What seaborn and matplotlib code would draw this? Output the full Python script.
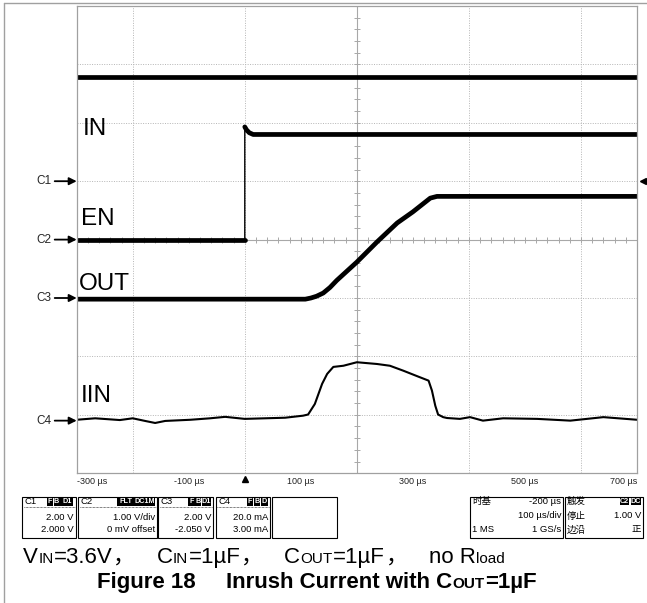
import numpy as np
import matplotlib
matplotlib.use("Agg")
import matplotlib.pyplot as plt
import seaborn as sns
from matplotlib.patches import Rectangle
from matplotlib.lines import Line2D

W, H = 647, 603

# =====================================================
# DATA
# =====================================================
# time axis, µs
x_ticks = [-300, -100, 100, 300, 500, 700]
x_tick_labels = ["-300 µs", "-100 µs", "100 µs", "300 µs", "500 µs", "700 µs"]

# C1 = IN (V), 2 V/div, marker at +1 div
in_t = [-300, 700]
in_v = [3.56, 3.56]

# C2 = EN (V), 1 V/div, marker at 0 div
en_t = [-300, 0, 0, 3, 8, 15, 700]
en_v = [0.0, 0.0, 1.93, 1.88, 1.83, 1.80, 1.80]

# C3 = OUT (V), 2 V/div, marker at -1 div
out_t = [-300, 108, 118, 128, 140, 152, 164, 200, 236, 272, 300, 331, 343, 700]
out_v = [-0.04, -0.04, 0.0, 0.06, 0.17, 0.36, 0.60, 1.23, 1.92, 2.57, 2.95, 3.42, 3.48, 3.48]

# C4 = IIN (mA), 20 mA/div, marker at -3.1 div
iin_t = [-300, -267, -223, -200, -178, -160, -142, -97, -62, -35, 0, 36, 72, 104,
         113, 125, 138, 147, 158, 176, 200, 236, 259, 283, 308, 328, 334, 340, 345,
         354, 361, 384, 402, 425, 461, 522, 581, 640, 700]
iin_ma = [0.3, 0.8, 0.2, 0.8, -0.1, -0.8, -0.1, 0.3, 0.8, 1.3, 0.6, 0.8, 1.0, 1.7,
          2.1, 5.7, 12.6, 16.0, 18.4, 18.8, 20.0, 19.4, 18.8, 17.1, 15.2, 13.7, 10.3, 5.1, 2.1,
          1.2, 0.9, 0.6, 1.2, 0.0, 0.8, 0.6, 0.0, 1.2, 0.3]

channels = ["C1", "C2", "C3", "C4"]
channel_pos = [1.0, 0.0, -1.0, -3.1]
channel_scale = [2.0, 1.0, 2.0, 20.0]


def to_div(vals, ch):
    return [channel_pos[ch] + v / channel_scale[ch] for v in vals]


# =====================================================
# STYLE
# =====================================================
sns.set_theme(style="white")
plt.rcParams["font.family"] = ["Liberation Sans", "Noto Sans CJK SC"]

fig = plt.figure(figsize=(W / 100, H / 100), dpi=100)
ax = fig.add_axes([76.7 / W, 1 - 473.2 / H, 560.3 / W, 467.2 / H])

# grid
ax.set_xticks(np.arange(-300, 701, 100), minor=True)
ax.set_yticks(np.arange(-4, 5, 1), minor=True)
ax.grid(True, which="minor", color="#b5b5b5", ls=(0, (1, 1.5)), lw=0.7)
ax.grid(False, which="major")
ax.set_axisbelow(True)

# centre cross with small ticks
gray = "#a8a8a8"
ax.axhline(0, color=gray, lw=0.8, zorder=1)
ax.axvline(200, color=gray, lw=0.8, zorder=1)
ax.vlines(np.arange(-300, 701, 20), -0.05, 0.05, color=gray, lw=0.7, zorder=1)
ax.hlines(np.arange(-4, 4.01, 0.2), 195, 205, color=gray, lw=0.7, zorder=1)

# =====================================================
# TRACES
# =====================================================
kw = dict(ax=ax, color="black", estimator=None, sort=False, legend=False)
TH = 3.4
sns.lineplot(x=in_t, y=to_div(in_v, 0), lw=TH, **kw)

en_y = to_div(en_v, 1)
sns.lineplot(x=en_t, y=en_y, lw=1.0, **kw)
sns.lineplot(x=en_t[:2], y=en_y[:2], lw=TH, **kw)
sns.lineplot(x=en_t[2:], y=en_y[2:], lw=TH, **kw)

sns.lineplot(x=out_t, y=to_div(out_v, 2), lw=TH, **kw)
sns.lineplot(x=iin_t, y=to_div(iin_ma, 3), lw=1.5, **kw)

ax.set_xlim(-300, 700)
ax.set_ylim(-4, 4)
ax.set_xlabel("")
ax.set_ylabel("")
ax.set_yticks([])
ax.set_xticks(x_ticks)
ax.set_xticklabels(x_tick_labels)
ax.tick_params(axis="x", which="both", length=0, pad=2.4, labelsize=6.5, colors="#222222")
tl = ax.get_xticklabels()
tl[0].set_ha("left")
tl[-1].set_ha("right")
for s in ax.spines.values():
    s.set_color("#a0a0a0")
    s.set_linewidth(0.9)

# trace names
ax.text(-290, 1.79, "IN", fontsize=17.5, va="baseline", color="black")
ax.text(-292, 0.25, "EN", fontsize=17.5, va="baseline", color="black")
ax.text(-296, -0.86, "OUT", fontsize=17.5, va="baseline", color="black")
ax.text(-292, -2.78, "IIN", fontsize=17.5, va="baseline", color="black")

# channel ground markers
for name, pos in zip(channels, channel_pos):
    ax.annotate(name, xy=(0, pos), xycoords=ax.get_yaxis_transform(),
                xytext=(-18.5, 0), textcoords="offset points", ha="right", va="center",
                fontsize=8.5, annotation_clip=False,
                arrowprops=dict(arrowstyle="-|>", color="black", lw=1.3,
                                shrinkA=0.3, shrinkB=0, mutation_scale=11))

# trigger level (right) and trigger time (bottom)
ax.plot([1.011], [1.0], marker="<", color="black", ms=4, clip_on=False,
        transform=ax.get_yaxis_transform())
ax.plot([0], [-4.1], marker="^", color="black", ms=4.5, clip_on=False)

# =====================================================
# SCOPE INFO BOXES
# =====================================================
def fx(x):
    return x / W


def fy(y):
    return 1 - y / H


BY0, BY1 = 497, 538


def box(x0, x1):
    fig.add_artist(Rectangle((fx(x0), fy(BY1)), (x1 - x0) / W, (BY1 - BY0) / H,
                             transform=fig.transFigure, fill=False, ec="black", lw=0.8))


def dashed(x0, x1, y=507):
    fig.add_artist(Line2D([fx(x0 + 1.5), fx(x1 - 1.5)], [fy(y), fy(y)],
                          transform=fig.transFigure, color="black", lw=0.5, ls=(0, (1, 1))))


def ftxt(x, y, s, ha="left", size=6.8, **k):
    fig.text(fx(x), fy(y), s, ha=ha, va="center", fontsize=size, color="black", **k)


def badge(x0, x1, s, y0=497.5, y1=506):
    fig.add_artist(Rectangle((fx(x0), fy(y1)), (x1 - x0) / W, (y1 - y0) / H,
                             transform=fig.transFigure, color="black", lw=0))
    fig.text(fx((x0 + x1) / 2), fy((y0 + y1) / 2), s, ha="center", va="center",
             fontsize=5.2, color="white", fontweight="bold")


# C1
box(22, 76)
dashed(22, 76)
ftxt(24.5, 501.5, "C1")
for s, a, b in [("F", 47.3, 52.8), ("B", 53.5, 59.5), ("D1", 60.2, 73.3)]:
    badge(a, b, s)
ftxt(73.5, 518, "2.00 V", ha="right")
ftxt(73.5, 529, "2.000 V", ha="right")

# C2
box(78, 157)
dashed(78, 157)
ftxt(80.5, 501.5, "C2")
for s, a, b in [("FLT", 116.7, 134.5), ("DC1M", 135.2, 155)]:
    badge(a, b, s)
ftxt(155, 518, "1.00 V/div", ha="right")
ftxt(155, 529, "0 mV offset", ha="right")

# C3
box(158, 213)
dashed(158, 213)
ftxt(160.5, 501.5, "C3")
for s, a, b in [("F", 188.3, 194.5), ("B", 195.2, 201), ("D1", 201.7, 211.2)]:
    badge(a, b, s)
ftxt(211, 518, "2.00 V", ha="right")
ftxt(211, 529, "-2.050 V", ha="right")

# C4
box(216, 270)
dashed(216, 270)
ftxt(218.5, 501.5, "C4")
for s, a, b in [("F", 246.7, 252.8), ("B", 253.5, 260), ("D", 260.7, 268)]:
    badge(a, b, s)
ftxt(268, 518, "20.0 mA", ha="right")
ftxt(268, 529, "3.00 mA", ha="right")

# empty
box(272, 337)

# timebase
box(470, 563)
ftxt(472, 501.5, "时基")
ftxt(561, 501.5, "-200 µs", ha="right")
ftxt(561, 516, "100 µs/div", ha="right")
ftxt(472, 530, "1 MS")
ftxt(561, 530, "1 GS/s", ha="right")

# trigger
box(565, 643)
ftxt(567, 501.5, "触发")
for s, a, b in [("C2", 620, 629), ("DC", 630.5, 641)]:
    badge(a, b, s, y0=497.5, y1=505)
ftxt(567, 516, "停止")
ftxt(641, 516, "1.00 V", ha="right")
ftxt(567, 530, "边沿")
ftxt(641, 530, "正", ha="right")

# outer frame of the screenshot
fig.add_artist(Line2D([fx(4), fx(4)], [fy(3), 0], transform=fig.transFigure, color="#a0a0a0", lw=1))
fig.add_artist(Line2D([fx(4), 1], [fy(3), fy(3)], transform=fig.transFigure, color="#a0a0a0", lw=1))

# =====================================================
# CAPTION (baseline-aligned smaller subscripts)
# =====================================================
renderer = fig.canvas.get_renderer()


def runs(x, y, parts, weight="normal"):
    for s, size, gap in parts:
        t = fig.text(fx(x), fy(y), s, fontsize=size, fontweight=weight,
                     ha="left", va="baseline", color="black")
        bb = t.get_window_extent(renderer)
        x = bb.x1 + gap


M, S = 16, 11
runs(23, 563, [("V", M, 0.3), ("IN", S, 0.5), ("=3.6V", M, 0.5), ("，", M, 21),
               ("C", M, 0.3), ("IN", S, 0.5), ("=1µF", M, 0.5), ("，", M, 21),
               ("C", M, 0.3), ("OUT", S, 0.5), ("=1µF", M, 0.5), ("，", M, 21),
               ("no R", M, 0.3), ("load", S, 0)])
runs(97, 588, [("Figure 18", M, 30), ("Inrush Current with C", M, 0.3),
               ("OUT", S, 0.5), ("=1µF", M, 0)], weight="bold")

fig.savefig("out.png", dpi=100)
